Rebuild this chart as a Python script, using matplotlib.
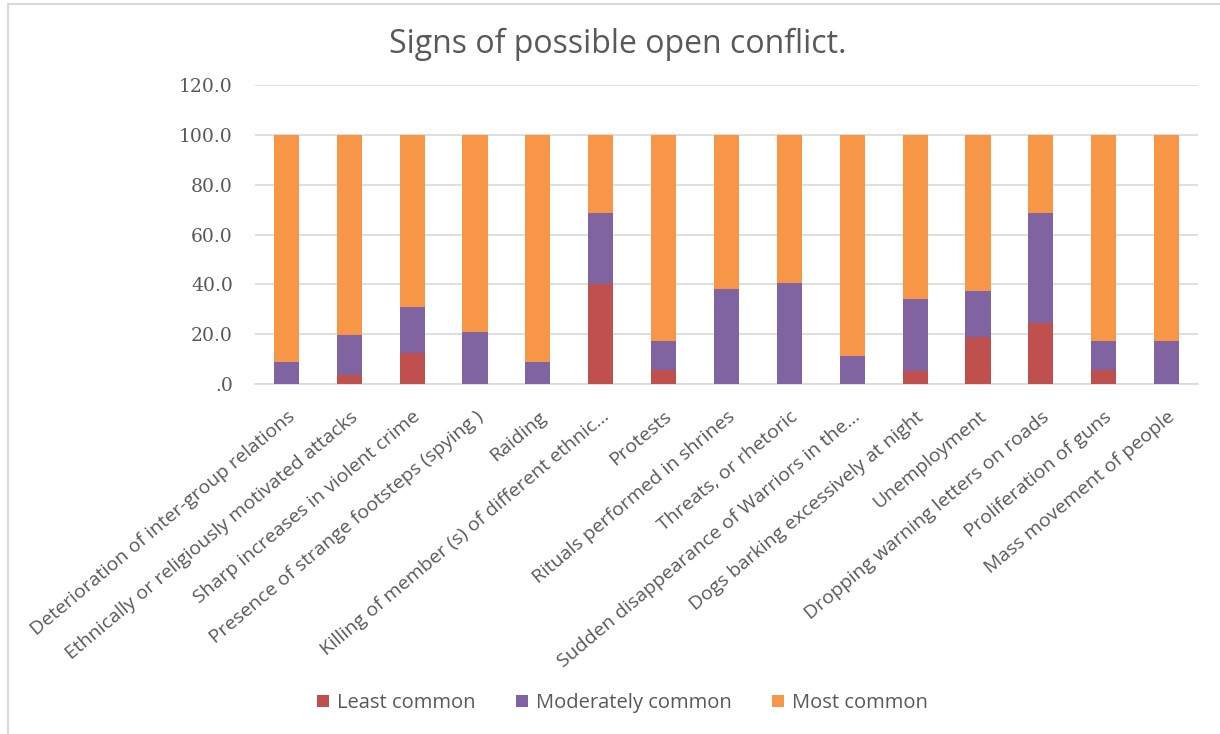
import numpy as np
import matplotlib
matplotlib.use('Agg')
import matplotlib.pyplot as plt
from matplotlib.lines import Line2D
from matplotlib.ticker import FuncFormatter

# Categories and values (percent of respondents)
categories = [
    'Deterioration of inter-group relations',
    'Ethnically or religiously motivated attacks',
    'Sharp increases in violent crime',
    'Presence of strange footsteps (spying )',
    'Raiding',
    'Killing of member (s) of different ethnic\u2026',
    'Protests',
    'Rituals performed in shrines',
    'Threats, or rhetoric',
    'Sudden disappearance of Warriors in the\u2026',
    'Dogs barking excessively at night',
    'Unemployment',
    'Dropping warning letters on roads',
    'Proliferation of guns',
    'Mass movement of people',
]
least_common = [0.0, 3.5, 12.5, 0.0, 0.0, 40.0, 5.8, 0.0, 0.0, 0.0, 5.2, 18.7, 24.6, 5.8, 0.0]
moderately_common = [8.7, 16.3, 18.5, 20.8, 8.7, 28.5, 11.5, 38.0, 40.6, 11.3, 28.9, 18.8, 43.9, 11.5, 17.3]
most_common = [91.3, 80.2, 69.0, 79.2, 91.3, 31.5, 82.7, 62.0, 59.4, 88.7, 65.9, 62.5, 31.5, 82.7, 82.7]
series_names = ['Least common', 'Moderately common', 'Most common']
y_ticks = [0, 20, 40, 60, 80, 100, 120]

colors = ['#C0504D', '#8064A2', '#F79646']
text_color = '#595959'
grid_color = '#D9D9D9'

fig = plt.figure(figsize=(12.2, 7.34), dpi=100)
ax = fig.add_axes([255 / 1220, (734 - 384) / 734, (1198 - 255) / 1220, (384 - 85) / 734])

x = np.arange(len(categories))
bottom = np.zeros(len(categories))
for vals, name, col in zip([least_common, moderately_common, most_common], series_names, colors):
    ax.bar(x, vals, 0.4, bottom=bottom, color=col, label=name, zorder=3)
    bottom += np.array(vals)

ax.set_xlim(-0.5, len(categories) - 0.5)
ax.set_ylim(0, 120)
ax.set_yticks(y_ticks)
ax.yaxis.set_major_formatter(FuncFormatter(lambda v, p: '.0' if v == 0 else '%.1f' % v))
ax.grid(axis='y', color=grid_color, linewidth=1.2, zorder=0)
for s in ['top', 'right', 'left']:
    ax.spines[s].set_visible(False)
ax.spines['bottom'].set_color(grid_color)
ax.spines['bottom'].set_linewidth(1.2)
ax.tick_params(axis='both', length=0)
ax.tick_params(axis='y', pad=16, labelcolor=text_color)
for lab in ax.get_yticklabels():
    lab.set_fontfamily('DejaVu Serif')
    lab.set_fontsize(13.5)

ax.set_xticks(x)
ax.set_xticklabels(categories, rotation=40, ha='right', va='top', rotation_mode='anchor',
                   fontsize=14, color=text_color, family='Open Sans')
ax.tick_params(axis='x', pad=17)

fig.text(0.506, 0.94, 'Signs of possible open conflict.', ha='center', va='center',
         fontsize=23, color=text_color, family='Open Sans')

handles, labels = ax.get_legend_handles_labels()
fig.legend(handles, labels, loc='center', bbox_to_anchor=(0.51, 0.042), ncol=3, frameon=False,
           handlelength=0.6, handleheight=0.6, handletextpad=0.4, columnspacing=2.0,
           prop={'family': 'Open Sans', 'size': 14.5}, labelcolor=text_color)

# light chart-area border (top and left edges)
fig.add_artist(Line2D([8 / 1220, 1], [1 - 3.5 / 734, 1 - 3.5 / 734], color=grid_color, linewidth=1.5))
fig.add_artist(Line2D([8 / 1220, 8 / 1220], [0, 1 - 3.5 / 734], color=grid_color, linewidth=1.5))

fig.savefig('out.png', dpi=100)
